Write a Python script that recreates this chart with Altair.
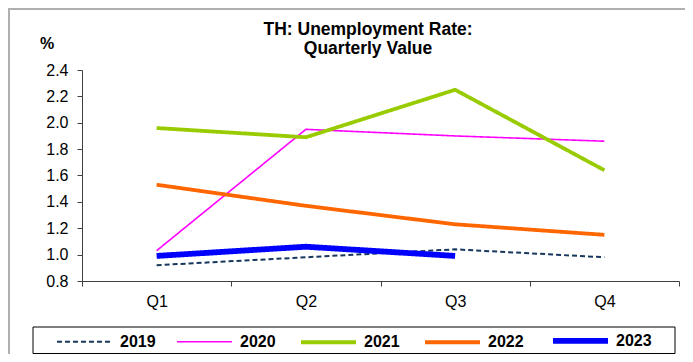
import altair as alt
import pandas as pd

quarters = ["Q1", "Q2", "Q3", "Q4"]
years = ["2019", "2020", "2021", "2022", "2023"]
v2019 = [0.92, 0.98, 1.04, 0.98]
v2020 = [1.03, 1.95, 1.90, 1.86]
v2021 = [1.96, 1.89, 2.25, 1.64]
v2022 = [1.53, 1.37, 1.23, 1.15]
v2023 = [0.99, 1.06, 0.99]
y_ticks = [0.8, 1.0, 1.2, 1.4, 1.6, 1.8, 2.0, 2.2, 2.4]
title_lines = ["TH: Unemployment Rate:", "Quarterly Value"]
unit_label = "%"

series = {"2019": v2019, "2020": v2020, "2021": v2021, "2022": v2022, "2023": v2023}
rows = []
for yr, vals in series.items():
    for q, v in zip(quarters, vals):
        rows.append({"Quarter": q, "Year": yr, "Value": v})
df = pd.DataFrame(rows)

colors = ["#17375E", "#FF00FF", "#99CC00", "#FF6600", "#0000FF"]
dashes = [[5, 3], [1, 0], [1, 0], [1, 0], [1, 0]]
widths = [2, 1.6, 3.8, 3.8, 5.8]

FONT = "Liberation Sans"
W, H = 597, 211

lines = alt.Chart(df).mark_line().encode(
    x=alt.X("Quarter:O", sort=quarters,
            scale=alt.Scale(type="band", domain=quarters, paddingInner=0, paddingOuter=0),
            axis=alt.Axis(title=None, labelAngle=0, tickBand="extent", tickSize=5,
                          labelPadding=7, labelFontSize=16, labelFont=FONT,
                          labelColor="black", domainColor="#404040", tickColor="#404040")),
    y=alt.Y("Value:Q", scale=alt.Scale(domain=[0.8, 2.4], nice=False, zero=False),
            axis=alt.Axis(title=None, values=y_ticks, format=".1f", grid=False,
                          tickSize=5, labelPadding=9, labelFontSize=16, labelFont=FONT,
                          labelColor="black", domainColor="#404040", tickColor="#404040")),
    color=alt.Color("Year:N", scale=alt.Scale(domain=years, range=colors),
                    legend=alt.Legend(title=None, orient="none", direction="horizontal",
                                      columns=5, legendX=-28, legendY=240,
                                      symbolType="stroke", symbolSize=3025,
                                      labelFont=FONT, labelFontSize=16, labelFontWeight="bold",
                                      labelColor="black", labelOffset=5, columnPadding=17,
                                      padding=0)),
    strokeDash=alt.StrokeDash("Year:N", scale=alt.Scale(type="ordinal", domain=years, range=dashes)),
    strokeWidth=alt.StrokeWidth("Year:N", scale=alt.Scale(type="ordinal", domain=years, range=widths)),
    order=alt.Order("Year:N"),
)

one = alt.Data(values=[{"a": 1}])

frame = alt.Chart(one).mark_rect(fill=None, stroke="#B0B0B0", strokeWidth=2).encode(
    x=alt.value(-73), x2=alt.value(640), y=alt.value(-61), y2=alt.value(320)
)
legend_box = alt.Chart(one).mark_rect(fill=None, stroke="black", strokeWidth=1).encode(
    x=alt.value(-49), x2=alt.value(593), y=alt.value(257), y2=alt.value(283.5)
)
title = alt.Chart(one).mark_text(font=FONT, fontSize=17.5, fontWeight="bold", align="center",
                                 baseline="alphabetic", lineHeight=18.5, color="black").encode(
    x=alt.value(286), y=alt.value(-35), text=alt.value(title_lines)
)
unit = alt.Chart(one).mark_text(font=FONT, fontSize=16, fontWeight="bold", align="left",
                                baseline="alphabetic", color="black").encode(
    x=alt.value(-42), y=alt.value(-21), text=alt.value(unit_label)
)

chart = alt.layer(frame, legend_box, lines, title, unit).properties(
    width=W, height=H,
    autosize=alt.AutoSizeParams(type="none"),
    padding={"left": 74, "top": 62, "right": 6, "bottom": 73},
    background="white",
).configure_view(stroke=None)

chart.save("out.html", embed_options={"renderer": "svg", "actions": False})
